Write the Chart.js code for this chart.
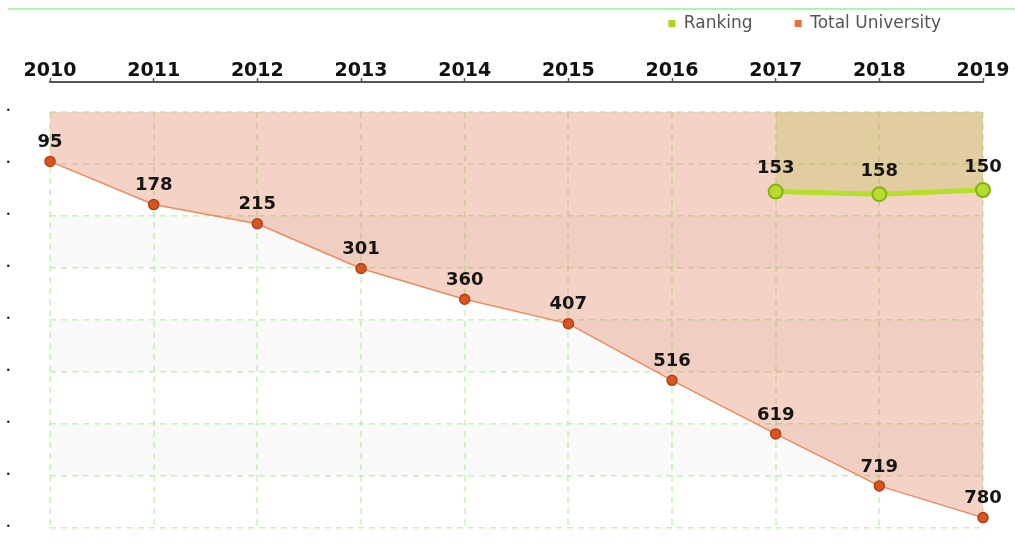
<!DOCTYPE html>
<html>
<head>
<meta charset="utf-8">
<script src="https://cdn.jsdelivr.net/npm/chart.js@4.4.0/dist/chart.umd.min.js"></script>
<style>
  html, body { margin: 0; padding: 0; background: #fff; }
  #wrap { position: relative; width: 1015px; height: 552px; }
  #topline { position: absolute; left: 8px; right: 0; top: 8px; border-top: 2px solid #aaf7aa; }
  canvas { position: absolute; left: 0; top: 0; }
</style>
</head>
<body>
<div id="wrap">
  <canvas id="chart-1" width="1015" height="552"></canvas>
  <div id="topline"></div>
</div>
<script>
// Chart data
const years = ['2010', '2011', '2012', '2013', '2014', '2015', '2016', '2017', '2018', '2019'];
const totalUniversity = [95, 178, 215, 301, 360, 407, 516, 619, 719, 780];
const ranking = [null, null, null, null, null, null, null, 153, 158, 150];
const yTicks = [0, 100, 200, 300, 400, 500, 600, 700, 800];
const greyBands = [[200, 300], [400, 500], [600, 700]];

const labelFont = 'bold 18px "DejaVu Sans"';
const gridGreen = 'rgba(130, 240, 100, 0.5)';

// grey bands + vertical dashed grid lines, drawn under everything
const backgroundGrid = {
    id: 'backgroundGrid',
    beforeDraw(chart) {
        const ctx = chart.ctx;
        const x = chart.scales.x, y = chart.scales.y;
        const area = chart.chartArea;
        ctx.save();
        ctx.fillStyle = '#f9f9f9';
        greyBands.forEach(b => {
            const y1 = y.getPixelForValue(b[0]);
            const y2 = y.getPixelForValue(b[1]);
            ctx.fillRect(area.left, y1, area.right - area.left, y2 - y1);
        });
        ctx.strokeStyle = gridGreen;
        ctx.lineWidth = 1.5;
        ctx.setLineDash([6, 5]);
        const top = y.getPixelForValue(yTicks[0]);
        const bottom = y.getPixelForValue(yTicks[yTicks.length - 1]);
        years.forEach((yr, i) => {
            const px = Math.round(x.getPixelForValue(i));
            ctx.beginPath();
            ctx.moveTo(px, top);
            ctx.lineTo(px, bottom);
            ctx.stroke();
        });
        ctx.restore();
    }
};

// value labels above the points
const pointLabels = {
    id: 'pointLabels',
    afterDatasetsDraw(chart) {
        const ctx = chart.ctx;
        ctx.save();
        ctx.font = labelFont;
        ctx.fillStyle = '#151515';
        ctx.textAlign = 'center';
        ctx.textBaseline = 'middle';
        chart.data.datasets.forEach((ds, di) => {
            const meta = chart.getDatasetMeta(di);
            const offset = di === 0 ? 23 : 19;
            meta.data.forEach((pt, i) => {
                if (ds.data[i] == null) return;
                ctx.fillText(ds.data[i], pt.x, pt.y - offset);
            });
        });
        ctx.restore();
    }
};

const ctx1 = document.getElementById('chart-1').getContext('2d');
const chart1 = new Chart(ctx1, {
    type: 'line',
    data: {
        labels: years,
        datasets: [{
            label: 'Ranking',
            data: ranking,
            borderColor: '#b5e02a',
            backgroundColor: 'rgba(172, 186, 46, 0.25)',
            borderWidth: 5,
            pointRadius: 7,
            pointBackgroundColor: '#b6dc2e',
            pointBorderColor: '#88b012',
            pointBorderWidth: 2,
            fill: { value: 0 },
            clip: false,
            tension: 0
        }, {
            label: 'Total University',
            data: totalUniversity,
            borderColor: '#ef8a5e',
            backgroundColor: 'rgba(218, 105, 65, 0.3)',
            borderWidth: 1.5,
            pointRadius: 5,
            pointBackgroundColor: '#d9541f',
            pointBorderColor: '#b04216',
            pointBorderWidth: 1.5,
            fill: { value: 0 },
            clip: false,
            tension: 0
        }]
    },
    options: {
        responsive: false,
        animation: false,
        layout: { padding: { left: 6, right: 32, top: -27, bottom: 24 } },
        plugins: {
            tooltip: { enabled: false },
            legend: {
                position: 'top',
                align: 'end',
                labels: {
                    boxWidth: 7,
                    boxHeight: 7,
                    padding: 42,
                    color: '#555',
                    font: { family: '"DejaVu Sans"', size: 17 },
                    generateLabels(chart) {
                        const solid = ['#a8d820', '#e8703a'];
                        return Chart.defaults.plugins.legend.labels.generateLabels(chart).map((l, i) => {
                            l.fillStyle = solid[i];
                            l.strokeStyle = solid[i];
                            l.lineWidth = 0;
                            return l;
                        });
                    }
                }
            }
        },
        scales: {
            x: {
                position: 'top',
                offset: false,
                afterFit(scale) { scale.height = 40; },
                grid: {
                    drawOnChartArea: false,
                    drawTicks: true,
                    tickLength: 4,
                    tickColor: '#555',
                    tickWidth: 1.5
                },
                border: { display: true, color: '#555', width: 2 },
                ticks: {
                    color: '#111',
                    padding: -4,
                    maxRotation: 0,
                    font: { family: '"DejaVu Sans"', size: 19, weight: 'bold' }
                }
            },
            y: {
                reverse: true,
                min: -57.7,
                max: 800,
                afterFit(scale) { scale.width = 44; },
                afterBuildTicks(scale) { scale.ticks = yTicks.map(v => ({ value: v })); },
                grid: { color: gridGreen, lineWidth: 1.5, drawTicks: false },
                border: { display: false, dash: [6, 5] },
                ticks: {
                    callback: () => '.',
                    crossAlign: 'far',
                    labelOffset: -4,
                    padding: 0,
                    color: '#222',
                    font: { family: '"DejaVu Sans"', size: 12, weight: 'bold' }
                }
            }
        }
    },
    plugins: [backgroundGrid, pointLabels]
});
</script>
</body>
</html>
